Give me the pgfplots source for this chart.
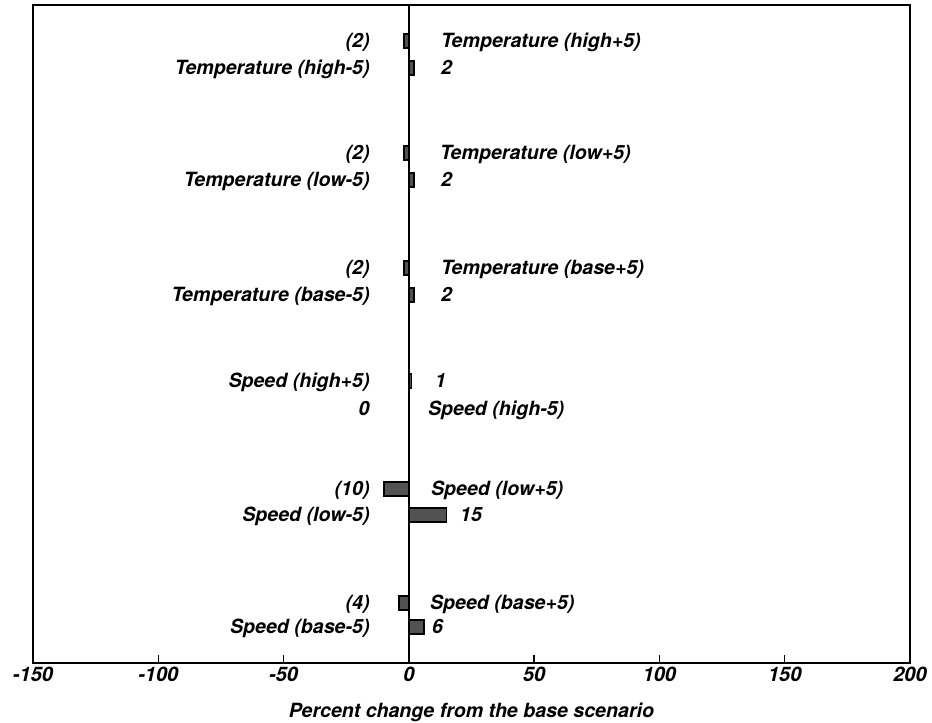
\documentclass[border=0pt]{standalone}
\usepackage{fontspec}
\setmainfont{TeX Gyre Heros}
\usepackage{pgfplots}
\pgfplotsset{compat=1.18}
\begin{document}
\begin{tikzpicture}[font=\fontsize{19.6}{22}\selectfont\bfseries\itshape]
\useasboundingbox (-33pt,-60pt) rectangle (899pt,663pt);
\begin{axis}[
  at={(0pt,0pt)}, anchor=south west,
  scale only axis, width=877pt, height=658pt,
  xmin=-150, xmax=200, ymin=0, ymax=658,
  xtick={-150,-100,-50,0,50,100,150,200},
  xtick pos=bottom, ytick=\empty,
  tick align=inside, major tick length=8pt,
  every tick/.style={black, line width=1.5pt},
  axis line style={line width=1.6pt},
  /pgf/number format/assume math mode=true,
  xticklabel style={anchor=base, yshift=-18pt, inner sep=0pt, font=\fontsize{20}{22}\selectfont\bfseries\itshape},
  xlabel={Percent change from the base scenario},
  xlabel style={at={(axis description cs:0.5,0)}, anchor=base, yshift=-54pt, inner sep=0pt},
  clip=false,
]
\addplot[xbar, bar width=14pt, bar shift=0pt, fill=black!68, draw=black, line width=1.4pt]
coordinates {
  (-2,622) (2,595)
  (-2,510) (2,483)
  (-2,395) (2,368)
  (1,282) (0,254)
  (-10,174) (15,148)
  (-4,60) (6,36)
};
\addplot[black, line width=1.6pt, mark=none] coordinates {(0,0) (0,658)};
% left labels
\begin{scope}[every node/.style={anchor=base east, inner sep=0pt}]
\node at (axis cs:-15.6,615.5) {(2)};
\node at (axis cs:-15.6,588.5) {Temperature (high-5)};
\node at (axis cs:-15.6,503.5) {(2)};
\node at (axis cs:-15.6,476.5) {Temperature (low-5)};
\node at (axis cs:-15.6,388.5) {(2)};
\node at (axis cs:-15.6,361.5) {Temperature (base-5)};
\node at (axis cs:-15.6,275.5) {Speed (high+5)};
\node at (axis cs:-15.6,247.5) {0};
\node at (axis cs:-15.6,167.5) {(10)};
\node at (axis cs:-15.6,141.5) {Speed (low-5)};
\node at (axis cs:-15.6,53.5) {(4)};
\node at (axis cs:-15.6,29.5) {Speed (base-5)};
\end{scope}
% right labels
\begin{scope}[every node/.style={anchor=base west, inner sep=0pt}]
\node at (axis cs:12.8,615.5) {Temperature (high+5)};
\node at (axis cs:12.8,588.5) {2};
\node at (axis cs:12.4,503.5) {Temperature (low+5)};
\node at (axis cs:12.8,476.5) {2};
\node at (axis cs:12.8,388.5) {Temperature (base+5)};
\node at (axis cs:12.8,361.5) {2};
\node at (axis cs:10.4,275.5) {1};
\node at (axis cs:7.6,247.5) {Speed (high-5)};
\node at (axis cs:8.8,167.5) {Speed (low+5)};
\node at (axis cs:20.4,141.5) {15};
\node at (axis cs:8.4,53.5) {Speed (base+5)};
\node at (axis cs:9.2,29.5) {6};
\end{scope}
\end{axis}
\end{tikzpicture}
\end{document}
